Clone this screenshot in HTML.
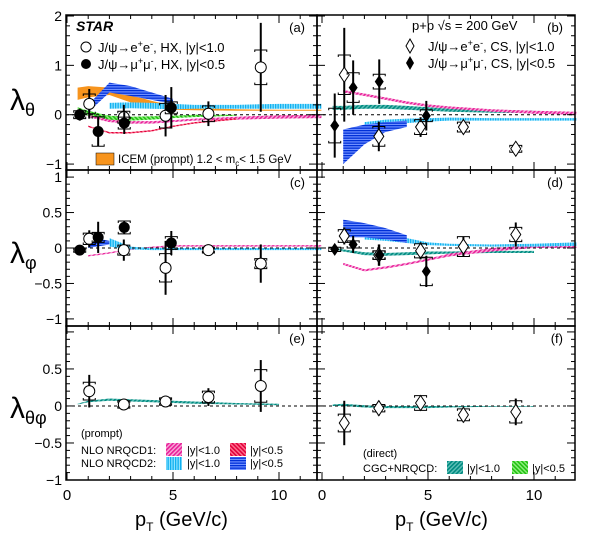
<!DOCTYPE html>
<html><head><meta charset="utf-8">
<style>
body{margin:0;background:#fff;}
svg{display:block;font-family:"Liberation Sans",sans-serif;}
</style></head>
<body>
<svg id="chart" width="600" height="551" viewBox="0 0 600 551" xmlns="http://www.w3.org/2000/svg">
<defs>
<pattern id="pPink" width="3" height="3" patternUnits="userSpaceOnUse" patternTransform="rotate(45)"><rect width="3" height="3" fill="#f8a8d8"/><rect width="1.6" height="3" fill="#e8209a"/></pattern>
<pattern id="pRed" width="3" height="3" patternUnits="userSpaceOnUse" patternTransform="rotate(-45)"><rect width="3" height="3" fill="#ff7090"/><rect width="1.6" height="3" fill="#e0003a"/></pattern>
<pattern id="pCyan" width="2.5" height="2.5" patternUnits="userSpaceOnUse"><rect width="2.5" height="2.5" fill="#90e4ff"/><rect width="1.3" height="2.5" fill="#10b0f0"/></pattern>
<pattern id="pBlue" width="2.5" height="2.5" patternUnits="userSpaceOnUse"><rect width="2.5" height="2.5" fill="#7090ff"/><rect width="2.5" height="1.3" fill="#0030d8"/></pattern>
<pattern id="pTeal" width="3" height="3" patternUnits="userSpaceOnUse" patternTransform="rotate(45)"><rect width="3" height="3" fill="#60c0b8"/><rect width="1.6" height="3" fill="#008a80"/></pattern>
<pattern id="pGreen" width="3" height="3" patternUnits="userSpaceOnUse" patternTransform="rotate(-45)"><rect width="3" height="3" fill="#90f080"/><rect width="1.6" height="3" fill="#20c010"/></pattern>
</defs>
<g id="plot"></g>
</svg>
<script>
// ---- data ----
const ptEE = [1.05, 2.68, 4.65, 6.67, 9.14];
const ptMM = [0.6, 1.47, 2.7, 4.92];
// lambda_theta HX (a)
const aEE = [0.22, -0.05, -0.02, 0.02, 0.96];
const aEEerr = [0.3, 0.25, 0.42, 0.25, 0.9];
const aEEsys = [0.2, 0.12, 0.25, 0.16, 0.35];
const aMM = [0.0, -0.34, -0.17, 0.14];
const aMMerr = [0.12, 0.3, 0.22, 0.42];
const aMMsys = [0.08, 0.3, 0.12, 0.12];
// lambda_theta CS (b)
const bEE = [0.81, -0.44, -0.25, -0.25, -0.69];
const bEEerr = [0.95, 0.3, 0.2, 0.12, 0.1];
const bEEsys = [0.4, 0.2, 0.15, 0.1, 0.07];
const bMM = [-0.22, 0.55, 0.67, -0.02];
const bMMerr = [0.65, 0.55, 0.45, 0.3];
const bMMsys = [0.35, 0.3, 0.15, 0.12];
// lambda_phi HX (c)
const cEE = [0.13, -0.03, -0.28, -0.03, -0.22];
const cEEerr = [0.12, 0.15, 0.38, 0.08, 0.27];
const cEEsys = [0.08, 0.07, 0.2, 0.04, 0.07];
const cMM = [-0.03, 0.15, 0.29, 0.07];
const cMMerr = [0.03, 0.22, 0.09, 0.17];
const cMMsys = [0.03, 0.07, 0.09, 0.09];
// lambda_phi CS (d)
const dEE = [0.17, -0.1, -0.04, 0.02, 0.19];
const dEEerr = [0.12, 0.15, 0.12, 0.14, 0.17];
const dEEsys = [0.09, 0.06, 0.1, 0.14, 0.1];
const dMM = [-0.02, 0.05, -0.1, -0.33];
const dMMerr = [0.04, 0.12, 0.15, 0.22];
const dMMsys = [0.03, 0.05, 0.06, 0.2];
// lambda_theta_phi HX (e)
const eEE = [0.2, 0.02, 0.06, 0.12, 0.27];
const eEEerr = [0.22, 0.06, 0.07, 0.12, 0.35];
const eEEsys = [0.12, 0.05, 0.05, 0.08, 0.22];
// lambda_theta_phi CS (f)
const fEE = [-0.23, -0.03, 0.04, -0.12, -0.08];
const fEEerr = [0.3, 0.1, 0.1, 0.1, 0.18];
const fEEsys = [0.12, 0.05, 0.1, 0.08, 0.15];

// theory bands: x, lo, hi
const bandX = [0.5, 1, 2, 3, 4, 5, 6, 8, 10, 12];
const aICEMlo = [0.3, 0.35, 0.4, 0.25, 0.15, 0.1, 0.09, 0.08, 0.08, 0.08];
const aICEMhi = [0.55, 0.58, 0.55, 0.4, 0.28, 0.18, 0.14, 0.11, 0.1, 0.1];
const aPinkLo = [null, -0.05, -0.15, -0.18, -0.18, -0.15, -0.12, -0.1, -0.08, -0.07];
const aPinkHi = [null, 0.0, -0.1, -0.13, -0.13, -0.11, -0.08, -0.04, -0.01, 0.0];
const aRedLo = [null, -0.25, -0.38, -0.38, -0.34, -0.25, -0.18, -0.1, null, null];
const aRedHi = [null, -0.22, -0.35, -0.35, -0.31, -0.22, -0.15, -0.07, null, null];
const aCyanLo = [null, null, 0.12, 0.13, 0.12, 0.11, 0.12, 0.12, 0.12, 0.12];
const aCyanHi = [null, null, 0.24, 0.25, 0.24, 0.22, 0.2, 0.2, 0.22, 0.22];
const aBlueLo = [null, 0.05, 0.45, 0.38, 0.3, 0.22, null, null, null, null];
const aBlueHi = [null, 0.2, 0.65, 0.58, 0.45, 0.32, null, null, null, null];
const aGreenLo = [0.05, -0.02, -0.12, -0.12, -0.1, -0.07, -0.05, -0.02, null, null];
const aGreenHi = [0.15, 0.08, -0.02, -0.04, -0.03, -0.02, 0.0, 0.0, null, null];
const bPinkLo = [null, 0.45, 0.38, 0.3, 0.22, 0.16, 0.12, 0.06, 0.02, 0.0];
const bPinkHi = [null, 0.5, 0.43, 0.35, 0.27, 0.21, 0.17, 0.11, 0.08, 0.06];
const bCyanLo = [null, null, -0.3, -0.22, -0.17, -0.14, -0.12, -0.12, -0.12, -0.12];
const bCyanHi = [null, null, -0.15, -0.1, -0.08, -0.07, -0.06, -0.07, -0.07, -0.07];
const bBlueLo = [null, -1.0, -0.6, -0.35, -0.25, null, null, null, null, null];
const bBlueHi = [null, -0.3, -0.2, -0.15, -0.12, null, null, null, null, null];
const bGreenLo = [0.1, 0.1, 0.12, 0.12, 0.1, 0.08, 0.06, 0.04, 0.03, null];
const bGreenHi = [0.18, 0.18, 0.2, 0.2, 0.18, 0.15, 0.12, 0.1, 0.08, null];
const cBlueLo = [null, 0.0, 0.05, null, null, null, null, null, null, null];
const cBlueHi = [null, 0.16, 0.1, null, null, null, null, null, null, null];
const cCyanLo = [null, null, 0.02, -0.02, -0.03, -0.03, -0.03, -0.03, -0.03, -0.03];
const cCyanHi = [null, null, 0.14, 0.02, 0.0, 0.0, 0.0, 0.0, 0.0, 0.0];
const cPinkLo = [null, -0.12, -0.08, -0.03, 0.0, 0.02, 0.02, 0.02, 0.02, 0.02];
const cPinkHi = [null, -0.1, -0.06, -0.01, 0.02, 0.04, 0.04, 0.04, 0.04, 0.04];
const dBlueLo = [null, 0.15, 0.15, 0.12, 0.07, null, null, null, null, null];
const dBlueHi = [null, 0.4, 0.35, 0.28, 0.18, null, null, null, null, null];
const dCyanLo = [null, null, 0.12, 0.1, 0.07, 0.04, 0.03, 0.02, 0.02, 0.03];
const dCyanHi = [null, null, 0.3, 0.22, 0.14, 0.08, 0.06, 0.05, 0.06, 0.08];
const dRedLo = [null, -0.24, -0.33, -0.29, -0.24, -0.18, -0.12, -0.05, 0.0, 0.0];
const dRedHi = [null, -0.21, -0.3, -0.26, -0.21, -0.15, -0.08, 0.0, 0.04, 0.05];
const dGreenLo = [-0.01, -0.05, -0.1, -0.11, -0.1, -0.09, -0.08, -0.07, -0.07, null];
const dGreenHi = [0.01, -0.02, -0.06, -0.07, -0.06, -0.05, -0.05, -0.04, -0.04, null];
const eTealLo = [0.02, 0.05, 0.07, 0.06, 0.05, 0.04, 0.03, 0.02, 0.01, null];
const eTealHi = [0.03, 0.07, 0.1, 0.09, 0.08, 0.07, 0.06, 0.04, 0.03, null];
const fTealLo = [0.0, 0.0, -0.02, -0.03, -0.03, -0.03, -0.02, -0.01, -0.01, null];
const fTealHi = [0.02, 0.03, 0.01, 0.0, 0.0, 0.0, 0.0, 0.0, 0.0, null];

const ns = "http://www.w3.org/2000/svg";
const root = document.getElementById('plot');
function mk(tag, attrs, parent, text){
  const e = document.createElementNS(ns, tag);
  for (const k in attrs) e.setAttribute(k, attrs[k]);
  if (text !== undefined) e.textContent = text;
  (parent || root).appendChild(e);
  return e;
}
const panels = [
  {id:'a', x0:66, x1:317, top:15, bot:170, ymin:-1.12, ymax:2.02},
  {id:'b', x0:317, x1:575, top:15, bot:170, ymin:-1.12, ymax:2.02},
  {id:'c', x0:66, x1:317, top:170, bot:326, ymin:-1.1, ymax:1.1},
  {id:'d', x0:317, x1:575, top:170, bot:326, ymin:-1.1, ymax:1.1},
  {id:'e', x0:66, x1:317, top:326, bot:480, ymin:-1.0, ymax:1.08},
  {id:'f', x0:317, x1:575, top:326, bot:480, ymin:-1.0, ymax:1.08}
];
function xs(p, v){ const z = p.x0 < 100 ? 67 : 322; return z + v*21.2; }
function ys(p, v){ return p.bot - (v - p.ymin)/(p.ymax - p.ymin)*(p.bot - p.top); }

function band(p, lo, hi, fill, name){
  let up = [], dn = [];
  for (let i=0;i<bandX.length;i++){ if (lo[i]===null) continue;
    up.push(xs(p,bandX[i])+','+ys(p,hi[i])); dn.unshift(xs(p,bandX[i])+','+ys(p,lo[i])); }
  const e = mk('polygon',{points:up.concat(dn).join(' '), fill:fill, stroke:'none'});
  
  
}
function points(p, xsArr, vals, err, sys, type, name){
  const g = mk('g',{});
  
  
  for (let i=0;i<vals.length;i++){
    const cx = xs(p,xsArr[i]), cy = ys(p,vals[i]);
    const yt = ys(p,vals[i]+err[i]), yb = ys(p,vals[i]-err[i]);
    mk('line',{x1:cx,y1:yt,x2:cx,y2:yb,stroke:'#000','stroke-width':2},g);
    const st = ys(p,vals[i]+sys[i]), sb = ys(p,vals[i]-sys[i]);
    mk('path',{d:`M${cx-6},${st+2}V${st}H${cx+6}V${st+2}M${cx-6},${sb-2}V${sb}H${cx+6}V${sb-2}`,fill:'none',stroke:'#000','stroke-width':1},g);
    let m;
    if (type==='oc') m = mk('circle',{cx:cx,cy:cy,r:5.5,fill:'#fff',stroke:'#000','stroke-width':1},g);
    else if (type==='fc') m = mk('circle',{cx:cx,cy:cy,r:5.5,fill:'#000'},g);
    else if (type==='od') m = mk('polygon',{points:`${cx},${cy-7.5} ${cx+5},${cy} ${cx},${cy+7.5} ${cx-5},${cy}`,fill:'#fff',stroke:'#000','stroke-width':1},g);
    else m = mk('polygon',{points:`${cx},${cy-6.5} ${cx+4.5},${cy} ${cx},${cy+6.5} ${cx-4.5},${cy}`,fill:'#000'},g);
    
    
  }
}
const P = {}; panels.forEach(p=>P[p.id]=p);

band(P.a, aICEMlo, aICEMhi, '#f7941d', 'icem-band');
band(P.a, aGreenLo, aGreenHi, 'url(#pGreen)', 'cgc-band-a');
band(P.a, aPinkLo, aPinkHi, 'url(#pPink)', 'nrqcd1-y1-band-a');
band(P.a, aRedLo, aRedHi, 'url(#pRed)', 'nrqcd1-y05-band-a');
band(P.a, aCyanLo, aCyanHi, 'url(#pCyan)', 'nrqcd2-y1-band-a');
band(P.a, aBlueLo, aBlueHi, 'url(#pBlue)', 'nrqcd2-y05-band-a');
band(P.b, bGreenLo, bGreenHi, 'url(#pTeal)', 'cgc-band-b');
band(P.b, bPinkLo, bPinkHi, 'url(#pPink)', 'nrqcd1-band-b');
band(P.b, bCyanLo, bCyanHi, 'url(#pCyan)', 'nrqcd2-y1-band-b');
band(P.b, bBlueLo, bBlueHi, 'url(#pBlue)', 'nrqcd2-y05-band-b');
band(P.c, cPinkLo, cPinkHi, 'url(#pPink)', 'nrqcd1-band-c');
band(P.c, cCyanLo, cCyanHi, 'url(#pCyan)', 'nrqcd2-y1-band-c');
band(P.c, cBlueLo, cBlueHi, 'url(#pBlue)', 'nrqcd2-y05-band-c');
band(P.d, dGreenLo, dGreenHi, 'url(#pTeal)', 'cgc-band-d');
band(P.d, dRedLo, dRedHi, 'url(#pPink)', 'nrqcd1-band-d');
band(P.d, dCyanLo, dCyanHi, 'url(#pCyan)', 'nrqcd2-y1-band-d');
band(P.d, dBlueLo, dBlueHi, 'url(#pBlue)', 'nrqcd2-y05-band-d');
band(P.e, eTealLo, eTealHi, 'url(#pTeal)', 'cgc-band-e');
band(P.f, fTealLo, fTealHi, 'url(#pTeal)', 'cgc-band-f');

const ticks = {a:[-1,0,1,2], b:[], c:[-1,-0.5,0,0.5,1], d:[], e:[-1,-0.5,0,0.5], f:[]};
const tickLabels = {a:['−1','0','1','2'], c:['−1','−0.5','0','0.5','1'], e:['−1','−0.5','0','0.5']};
panels.forEach(p=>{
  const zl = mk('line',{x1:p.x0,x2:p.x1,y1:ys(p,0),y2:ys(p,0),stroke:'#000','stroke-dasharray':'3,3','stroke-width':1});
  
  
  const r = mk('rect',{x:p.x0,y:p.top,width:p.x1-p.x0,height:p.bot-p.top,fill:'none',stroke:'#000','stroke-width':1.5});
  
  
  const maj = p.id==='a'||p.id==='b' ? [-1,0,1,2] : [-1,-0.5,0,0.5,1];
  for (let v=Math.ceil(p.ymin*10)/10; v<=p.ymax+1e-6; v+=0.1){
    const vv = Math.round(v*10)/10;
    const isMaj = maj.some(m=>Math.abs(m-vv)<1e-6);
    if (!isMaj && (p.id==='a'||p.id==='b') && Math.abs(vv*5-Math.round(vv*5))>1e-6) continue;
    mk('line',{x1:p.x0,x2:p.x0+(isMaj?8:4),y1:ys(p,vv),y2:ys(p,vv),stroke:'#000','stroke-width':1});
    mk('line',{x1:p.x1,x2:p.x1-(isMaj?8:4),y1:ys(p,vv),y2:ys(p,vv),stroke:'#000','stroke-width':1});
  }
  for (let v=0; v<=11.5; v+=1){
    const big = v%5===0;
    mk('line',{x1:xs(p,v),x2:xs(p,v),y1:p.bot,y2:p.bot-(big?8:4),stroke:'#000','stroke-width':1});
    mk('line',{x1:xs(p,v),x2:xs(p,v),y1:p.top,y2:p.top+(big?8:4),stroke:'#000','stroke-width':1});
  }
  if (tickLabels[p.id]) ticks[p.id].forEach((v,i)=>{
    const t = mk('text',{x:p.x0-4,y:ys(p,v)+5,'text-anchor':'end','font-size':14},root,tickLabels[p.id][i]);
    
    
  });
  const lab = mk('text',{x:p.x1-12,y:p.top+17,'text-anchor':'end','font-size':13},root,'('+p.id+')');
  
  
});
const xTickVals = [0,5,10];
[P.e,P.f].forEach(p=>xTickVals.forEach(v=>{
  const t = mk('text',{x:xs(p,v),y:500,'text-anchor':'middle','font-size':15},root,String(v));
  
  
}));

points(P.a, ptEE, aEE, aEEerr, aEEsys, 'oc', 'ee-hx-theta');
points(P.a, ptMM, aMM, aMMerr, aMMsys, 'fc', 'mumu-hx-theta');
points(P.b, ptEE, bEE, bEEerr, bEEsys, 'od', 'ee-cs-theta');
points(P.b, ptMM, bMM, bMMerr, bMMsys, 'fd', 'mumu-cs-theta');
points(P.c, ptEE, cEE, cEEerr, cEEsys, 'oc', 'ee-hx-phi');
points(P.c, ptMM, cMM, cMMerr, cMMsys, 'fc', 'mumu-hx-phi');
points(P.d, ptEE, dEE, dEEerr, dEEsys, 'od', 'ee-cs-phi');
points(P.d, ptMM, dMM, dMMerr, dMMsys, 'fd', 'mumu-cs-phi');
points(P.e, ptEE, eEE, eEEerr, eEEsys, 'oc', 'ee-hx-thetaphi');
points(P.f, ptEE, fEE, fEEerr, fEEsys, 'od', 'ee-cs-thetaphi');
</script>
<svg width="600" height="551" style="position:absolute;left:0;top:0" xmlns="http://www.w3.org/2000/svg" font-family="Liberation Sans, sans-serif">
<text x="10" y="110" font-size="30">λ<tspan font-size="18" dy="6">θ</tspan></text>
<text x="10" y="263" font-size="30">λ<tspan font-size="18" dy="6">φ</tspan></text>
<text x="10" y="418" font-size="30">λ<tspan font-size="18" dy="6">θφ</tspan></text>
<text x="135" y="526" font-size="20">p<tspan font-size="12" dy="5">T</tspan><tspan dy="-5"> (GeV/c)</tspan></text>
<text x="395" y="526" font-size="20">p<tspan font-size="12" dy="5">T</tspan><tspan dy="-5"> (GeV/c)</tspan></text>
<text x="76" y="31" font-size="14" font-weight="bold" font-style="italic">STAR</text>
<g font-size="13">
<circle cx="86" cy="47" r="5" fill="#fff" stroke="#000"/>
<text x="98" y="52">J/ψ→e<tspan font-size="9" dy="-5">+</tspan><tspan dy="5">e</tspan><tspan font-size="9" dy="-5">-</tspan><tspan dy="5">, HX, |y|&lt;1.0</tspan></text>
<circle cx="86" cy="64" r="5" fill="#000"/>
<text x="98" y="69">J/ψ→μ<tspan font-size="9" dy="-5">+</tspan><tspan dy="5">μ</tspan><tspan font-size="9" dy="-5">-</tspan><tspan dy="5">, HX, |y|&lt;0.5</tspan></text>
<rect x="96" y="153" width="18" height="12" fill="#f7941d" stroke="#000" stroke-width="0.5"/>
<text x="118" y="163" font-size="11.5">ICEM (prompt) 1.2 &lt; m<tspan font-size="8" dy="3">c</tspan><tspan dy="-3">&lt; 1.5 GeV</tspan></text>
</g>
<g font-size="13">
<text x="412" y="30">p+p √s = 200 GeV</text>
<polygon points="410,39 414,46 410,53 406,46" fill="#fff" stroke="#000"/>
<text x="428" y="51">J/ψ→e<tspan font-size="9" dy="-5">+</tspan><tspan dy="5">e</tspan><tspan font-size="9" dy="-5">-</tspan><tspan dy="5">, CS, |y|&lt;1.0</tspan></text>
<polygon points="410,56 414,63 410,70 406,63" fill="#000"/>
<text x="428" y="68">J/ψ→μ<tspan font-size="9" dy="-5">+</tspan><tspan dy="5">μ</tspan><tspan font-size="9" dy="-5">-</tspan><tspan dy="5">, CS, |y|&lt;0.5</tspan></text>
</g>
<g font-size="11">
<text x="81" y="437">(prompt)</text>
<text x="81" y="454">NLO NRQCD1:</text>
<rect x="166" y="443" width="16" height="13" fill="url(#pPink)"/><text x="187" y="454">|y|&lt;1.0</text>
<rect x="230" y="443" width="16" height="13" fill="url(#pRed)"/><text x="250" y="454">|y|&lt;0.5</text>
<text x="81" y="467">NLO NRQCD2:</text>
<rect x="166" y="457" width="16" height="13" fill="url(#pCyan)"/><text x="187" y="467">|y|&lt;1.0</text>
<rect x="230" y="457" width="16" height="13" fill="url(#pBlue)"/><text x="250" y="467">|y|&lt;0.5</text>
</g>
<g font-size="11">
<text x="363" y="457">(direct)</text>
<text x="363" y="472">CGC+NRQCD:</text>
<rect x="447" y="461" width="16" height="13" fill="url(#pTeal)"/><text x="467" y="472">|y|&lt;1.0</text>
<rect x="512" y="461" width="16" height="13" fill="url(#pGreen)"/><text x="532" y="472">|y|&lt;0.5</text>
</g>
</svg>
</body></html>
